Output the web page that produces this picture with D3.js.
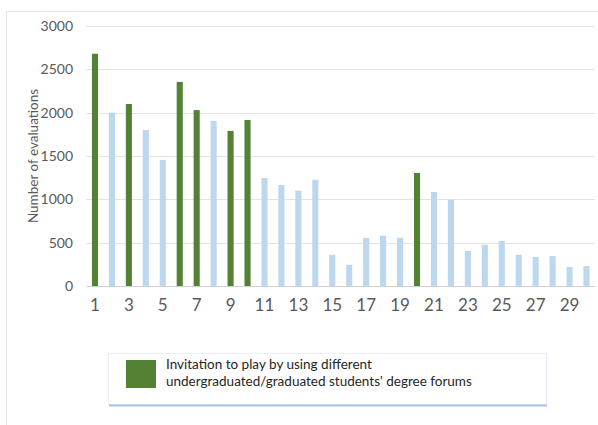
<!DOCTYPE html>
<html>
<head>
<meta charset="utf-8">
<script src="https://cdn.jsdelivr.net/npm/d3@7"></script>
<style>
  body { margin: 0; background: #fff; }
  text { font-family: Lato, "Open Sans", sans-serif; }
</style>
</head>
<body>
<div class="chart"></div>
<script>
// evaluations per day, days 1..30
var days = d3.range(1, 31);
var evaluations = [2680, 2000, 2100, 1800, 1455, 2355, 2030, 1905, 1790, 1915,
    1245, 1165, 1100, 1225, 360, 245, 555, 580, 555, 1305,
    1085, 995, 405, 475, 520, 360, 335, 345, 220, 230];
// days with the forum invitation
var invitationDays = [1, 3, 6, 7, 9, 10, 20];
var yTicks = [0, 500, 1000, 1500, 2000, 2500, 3000];
var xTickLabels = d3.range(1, 30, 2);
var legendLines = ['Invitation to play by using different',
    "undergraduated/graduated students' degree forums"];

var svgWidth = 598;
var svgHeight = 425;
var green = '#548235';
var lightBlue = '#bdd7ee';

var svg = d3.select('.chart').append('svg')
    .attr('width', svgWidth)
    .attr('height', svgHeight);

// outer frame
svg.append('rect')
    .attr('x', 6.5).attr('y', 11.5)
    .attr('width', svgWidth).attr('height', svgHeight)
    .attr('fill', 'none')
    .attr('stroke', '#e6e6e6');

var x = d3.scaleBand()
    .domain(days)
    .range([86.5, 595])
    .paddingInner(0.64)
    .paddingOuter(0.32);

var y = d3.scaleLinear()
    .domain([0, 3000])
    .range([286, 26]);

// gridlines
svg.selectAll('line.grid')
    .data(yTicks)
    .enter()
    .append('line')
    .attr('class', 'grid')
    .attr('x1', 86.5).attr('x2', 595)
    .attr('y1', function(d) { return Math.round(y(d)) + 0.5; })
    .attr('y2', function(d) { return Math.round(y(d)) + 0.5; })
    .attr('stroke', function(d) { return d === 0 ? '#d0d0d0' : '#e3e3e3'; })
    .attr('stroke-width', 1);

// y axis labels
var yAxis = d3.axisLeft(y).tickValues(yTicks).tickFormat(d3.format('d'))
    .tickSize(0).tickPadding(13);
var gy = svg.append('g').attr('transform', 'translate(86,0)').call(yAxis);
gy.select('.domain').remove();
gy.selectAll('text')
    .attr('font-size', '14px')
    .attr('fill', '#595959')
    .attr('font-family', 'Lato, sans-serif');

// bars
svg.selectAll('rect.bar')
    .data(evaluations)
    .enter()
    .append('rect')
    .attr('class', 'bar')
    .attr('x', function(d, i) { return x(days[i]); })
    .attr('y', function(d) { return y(d); })
    .attr('width', x.bandwidth())
    .attr('height', function(d) { return y(0) - y(d); })
    .attr('fill', function(d, i) {
        return invitationDays.indexOf(days[i]) >= 0 ? green : lightBlue;
    });

// x axis labels
var xAxis = d3.axisBottom(x).tickValues(xTickLabels).tickSize(0).tickPadding(13);
var gx = svg.append('g').attr('transform', 'translate(0,' + y(0) + ')').call(xAxis);
gx.select('.domain').remove();
gx.selectAll('text')
    .attr('font-size', '17px')
    .attr('fill', '#595959')
    .attr('font-family', 'Lato, sans-serif');

// y axis title
svg.append('text')
    .attr('transform', 'translate(38,156) rotate(-90)')
    .attr('text-anchor', 'middle')
    .attr('font-size', '13.5px')
    .attr('fill', '#595959')
    .text('Number of evaluations');

// legend
var legend = svg.append('g');
legend.append('rect')
    .attr('x', 108.5).attr('y', 353.5)
    .attr('width', 438).attr('height', 51)
    .attr('fill', '#fff')
    .attr('stroke', '#eaeef6');
legend.append('line')
    .attr('x1', 109).attr('x2', 547)
    .attr('y1', 405.5).attr('y2', 405.5)
    .attr('stroke', '#a9c1e8')
    .attr('stroke-width', 2);
legend.append('rect')
    .attr('x', 126).attr('y', 360)
    .attr('width', 30).attr('height', 28)
    .attr('fill', green);
legend.selectAll('text.leg')
    .data(legendLines)
    .enter()
    .append('text')
    .attr('class', 'leg')
    .attr('x', 166)
    .attr('y', function(d, i) { return 369 + i * 16.5; })
    .attr('font-size', '13.5px')
    .attr('fill', '#262626')
    .text(function(d) { return d; });
</script>
</body>
</html>
